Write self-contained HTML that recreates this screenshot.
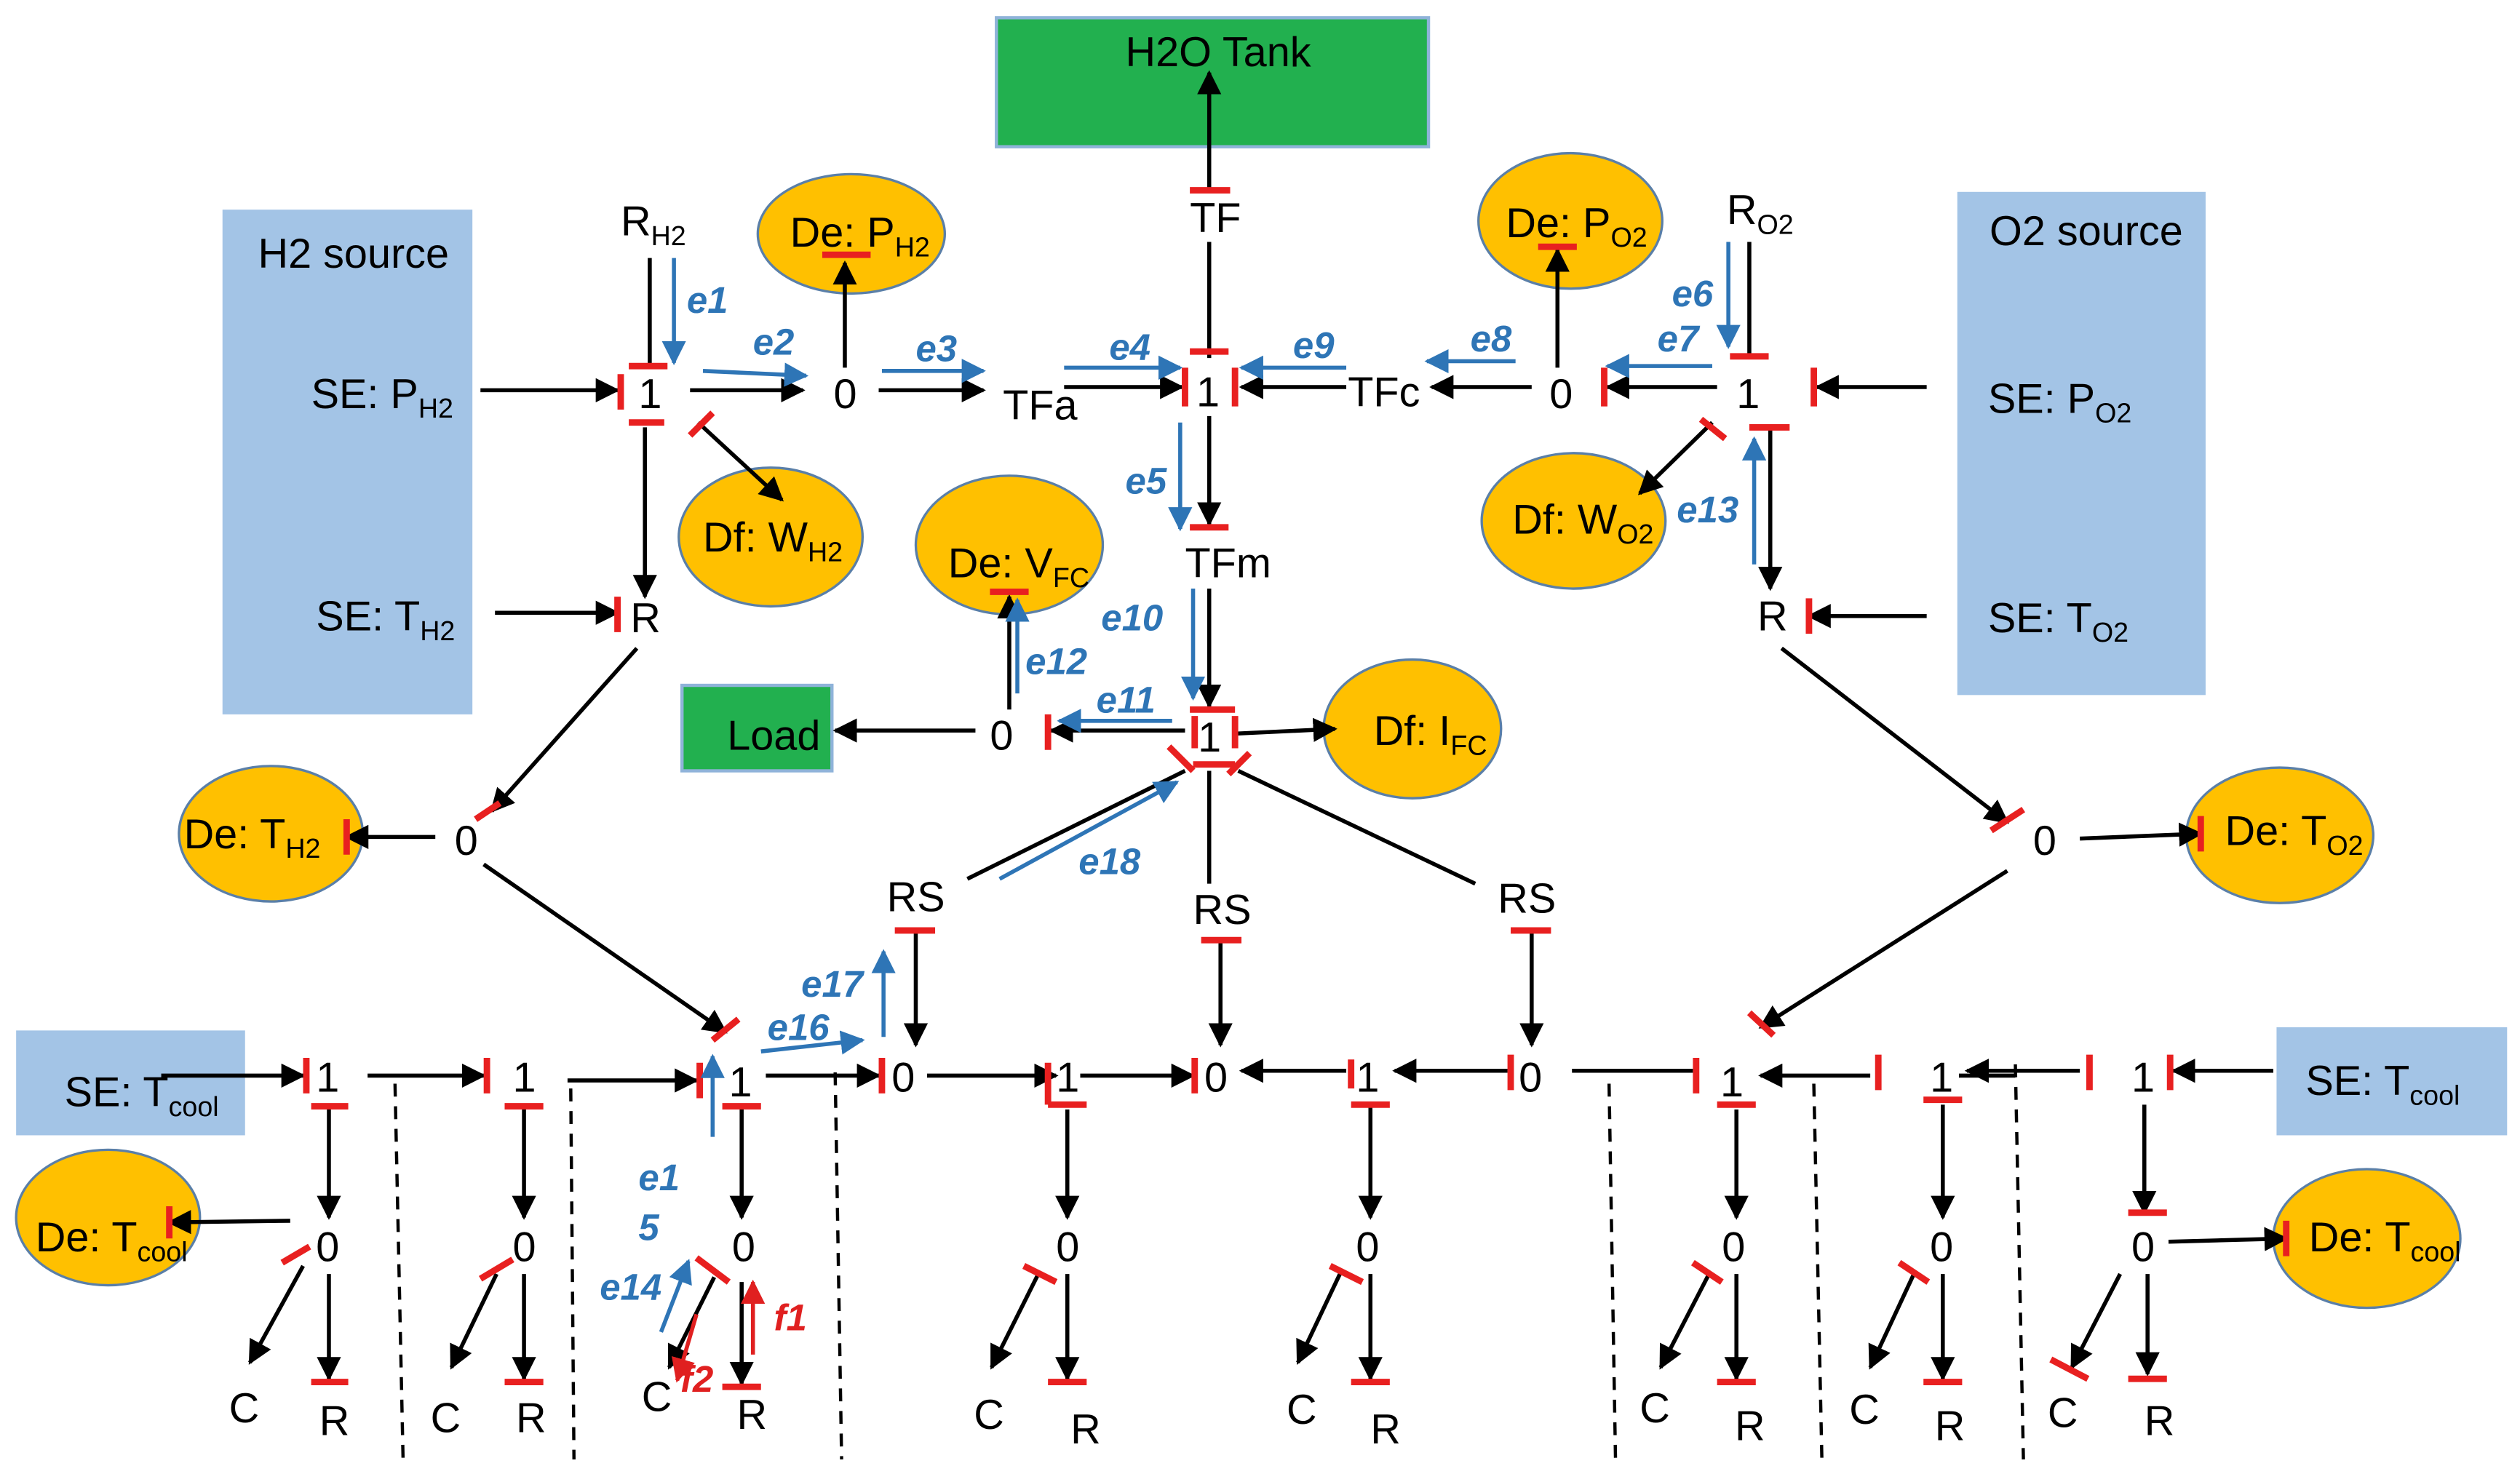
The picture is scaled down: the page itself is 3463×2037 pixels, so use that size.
<!DOCTYPE html>
<html><head><meta charset="utf-8"><style>
html,body{margin:0;padding:0;background:#fff;}
svg{display:block;}
text{font-family:"Liberation Sans",sans-serif;}
.t{font-size:26px;fill:#000;}
.s{font-size:17px;}
.b{font-size:23px;fill:#2e75b6;font-style:italic;font-weight:bold;}
.r{font-size:23px;fill:#e02020;font-style:italic;font-weight:bold;}
</style></head><body>
<svg width="3463" height="2037" viewBox="0 0 1563 919" preserveAspectRatio="none" xmlns="http://www.w3.org/2000/svg">
<defs>
<marker id="a" viewBox="0 0 10 10" refX="9" refY="5" markerWidth="6" markerHeight="6" orient="auto"><path d="M0,0 L10,5 L0,10 z" fill="#000"/></marker>
<marker id="ab" viewBox="0 0 10 10" refX="9" refY="5" markerWidth="6" markerHeight="6" orient="auto"><path d="M0,0 L10,5 L0,10 z" fill="#2e75b6"/></marker>
<marker id="ar" viewBox="0 0 10 10" refX="9" refY="5" markerWidth="6" markerHeight="6" orient="auto"><path d="M0,0 L10,5 L0,10 z" fill="#e02020"/></marker>
</defs>
<rect x="138" y="130" width="155" height="313" fill="#a3c4e6"/>
<rect x="1214" y="119" width="154" height="312" fill="#a3c4e6"/>
<rect x="618" y="11" width="268" height="80" fill="#22b04f" stroke="#8fb3d9" stroke-width="2"/>
<rect x="423" y="425" width="93" height="53" fill="#22b04f" stroke="#8fb3d9" stroke-width="2"/>
<rect x="10" y="639" width="142" height="65" fill="#a3c4e6"/>
<rect x="1412" y="637" width="143" height="67" fill="#a3c4e6"/>
<text class="t" x="160" y="166">H2 source</text>
<text class="t" x="1234" y="152">O2 source</text>
<text class="t" x="698" y="41">H2O Tank</text>
<text class="t" x="451" y="465">Load</text>
<g fill="#ffc000" stroke="#5a7fa8" stroke-width="1.5">
<ellipse cx="528" cy="145" rx="58" ry="37"/>
<ellipse cx="478" cy="333" rx="57" ry="43"/>
<ellipse cx="626" cy="338" rx="58" ry="43"/>
<ellipse cx="876" cy="452" rx="55" ry="43"/>
<ellipse cx="974" cy="137" rx="57" ry="42"/>
<ellipse cx="976" cy="323" rx="57" ry="42"/>
<ellipse cx="168" cy="517" rx="57" ry="42"/>
<ellipse cx="1414" cy="518" rx="58" ry="42"/>
<ellipse cx="67" cy="755" rx="57" ry="42"/>
<ellipse cx="1468" cy="768" rx="58" ry="43"/>
</g>
<text class="t" x="490" y="153">De: P<tspan class="s" dy="6">H2</tspan></text>
<text class="t" x="436" y="342">Df: W<tspan class="s" dy="6">H2</tspan></text>
<text class="t" x="588" y="358">De: V<tspan class="s" dy="6">FC</tspan></text>
<text class="t" x="852" y="462">Df: I<tspan class="s" dy="6">FC</tspan></text>
<text class="t" x="934" y="147">De: P<tspan class="s" dy="6">O2</tspan></text>
<text class="t" x="938" y="331">Df: W<tspan class="s" dy="6">O2</tspan></text>
<text class="t" x="114" y="526">De: T<tspan class="s" dy="6">H2</tspan></text>
<text class="t" x="1380" y="524">De: T<tspan class="s" dy="6">O2</tspan></text>
<text class="t" x="22" y="776">De: T<tspan class="s" dy="6">cool</tspan></text>
<text class="t" x="1432" y="776">De: T<tspan class="s" dy="6">cool</tspan></text>
<text class="t" x="40" y="686">SE: T<tspan class="s" dy="6">cool</tspan></text>
<text class="t" x="1430" y="679">SE: T<tspan class="s" dy="6">cool</tspan></text>
<text class="t" x="193" y="253">SE: P<tspan class="s" dy="6">H2</tspan></text>
<text class="t" x="196" y="391">SE: T<tspan class="s" dy="6">H2</tspan></text>
<text class="t" x="1233" y="256">SE: P<tspan class="s" dy="6">O2</tspan></text>
<text class="t" x="1233" y="392">SE: T<tspan class="s" dy="6">O2</tspan></text>
<text class="t" x="385" y="146">R<tspan class="s" dy="6">H2</tspan></text>
<text class="t" x="1071" y="139">R<tspan class="s" dy="6">O2</tspan></text>
<g class="t">
<text class="t" x="396" y="253">1</text>
<text class="t" x="517" y="253">0</text>
<text class="t" x="622" y="260">TFa</text>
<text class="t" x="742" y="252">1</text>
<text class="t" x="836" y="252">TFc</text>
<text class="t" x="961" y="253">0</text>
<text class="t" x="1077" y="253">1</text>
<text class="t" x="738" y="144">TF</text>
<text class="t" x="735" y="358">TFm</text>
<text class="t" x="743" y="466">1</text>
<text class="t" x="614" y="465">0</text>
<text class="t" x="391" y="392">R</text>
<text class="t" x="1090" y="391">R</text>
<text class="t" x="282" y="530">0</text>
<text class="t" x="1261" y="530">0</text>
<text class="t" x="550" y="565">RS</text>
<text class="t" x="740" y="573">RS</text>
<text class="t" x="929" y="566">RS</text>
</g>
<g stroke="#000" stroke-width="2.5" fill="none">
<line x1="298" y1="242" x2="383" y2="242" marker-end="url(#a)"/>
<line x1="428" y1="242" x2="498" y2="242" marker-end="url(#a)"/>
<line x1="524" y1="228" x2="524" y2="163" marker-end="url(#a)"/>
<line x1="545" y1="242" x2="610" y2="242" marker-end="url(#a)"/>
<line x1="660" y1="240" x2="733" y2="240" marker-end="url(#a)"/>
<line x1="835" y1="240" x2="770" y2="240" marker-end="url(#a)"/>
<line x1="950" y1="240" x2="888" y2="240" marker-end="url(#a)"/>
<line x1="1065" y1="240" x2="997" y2="240" marker-end="url(#a)"/>
<line x1="1195" y1="240" x2="1127" y2="240" marker-end="url(#a)"/>
<line x1="966" y1="228" x2="966" y2="155" marker-end="url(#a)"/>
<line x1="750" y1="222" x2="750" y2="150"/>
<line x1="750" y1="118" x2="750" y2="45" marker-end="url(#a)"/>
<line x1="750" y1="258" x2="750" y2="325" marker-end="url(#a)"/>
<line x1="750" y1="365" x2="750" y2="438" marker-end="url(#a)"/>
<line x1="765" y1="455" x2="828" y2="452" marker-end="url(#a)"/>
<line x1="735" y1="453" x2="652" y2="453" marker-end="url(#a)"/>
<line x1="605" y1="453" x2="518" y2="453" marker-end="url(#a)"/>
<line x1="626" y1="440" x2="626" y2="370" marker-end="url(#a)"/>
<line x1="403" y1="228" x2="403" y2="160"/>
<line x1="400" y1="265" x2="400" y2="370" marker-end="url(#a)"/>
<line x1="433" y1="262" x2="485" y2="310" marker-end="url(#a)"/>
<line x1="307" y1="380" x2="383" y2="380" marker-end="url(#a)"/>
<line x1="1085" y1="222" x2="1085" y2="150"/>
<line x1="1098" y1="265" x2="1098" y2="365" marker-end="url(#a)"/>
<line x1="1062" y1="262" x2="1017" y2="306" marker-end="url(#a)"/>
<line x1="1195" y1="382" x2="1122" y2="382" marker-end="url(#a)"/>
<line x1="395" y1="402" x2="305" y2="503" marker-end="url(#a)"/>
<line x1="270" y1="519" x2="215" y2="519" marker-end="url(#a)"/>
<line x1="300" y1="536" x2="450" y2="640" marker-end="url(#a)"/>
<line x1="1105" y1="402" x2="1245" y2="510" marker-end="url(#a)"/>
<line x1="1290" y1="520" x2="1365" y2="517" marker-end="url(#a)"/>
<line x1="1245" y1="540" x2="1092" y2="637" marker-end="url(#a)"/>
<line x1="735" y1="478" x2="600" y2="545"/>
<line x1="750" y1="478" x2="750" y2="548"/>
<line x1="768" y1="478" x2="915" y2="548"/>
<line x1="568" y1="577" x2="568" y2="648" marker-end="url(#a)"/>
<line x1="757" y1="583" x2="757" y2="648" marker-end="url(#a)"/>
<line x1="950" y1="577" x2="950" y2="648" marker-end="url(#a)"/>
<line x1="100" y1="667" x2="188" y2="667" marker-end="url(#a)"/>
<line x1="228" y1="667" x2="300" y2="667" marker-end="url(#a)"/>
<line x1="352" y1="670" x2="432" y2="670" marker-end="url(#a)"/>
<line x1="475" y1="667" x2="545" y2="667" marker-end="url(#a)"/>
<line x1="575" y1="667" x2="655" y2="667" marker-end="url(#a)"/>
<line x1="670" y1="667" x2="740" y2="667" marker-end="url(#a)"/>
<line x1="835" y1="664" x2="770" y2="664" marker-end="url(#a)"/>
<line x1="935" y1="664" x2="865" y2="664" marker-end="url(#a)"/>
<line x1="975" y1="664" x2="1050" y2="664"/>
<line x1="1160" y1="667" x2="1092" y2="667" marker-end="url(#a)"/>
<line x1="1290" y1="664" x2="1220" y2="664" marker-end="url(#a)"/>
<line x1="1410" y1="664" x2="1348" y2="664" marker-end="url(#a)"/>
<line x1="1215" y1="667" x2="1250" y2="667"/>
<line x1="180" y1="757" x2="105" y2="758" marker-end="url(#a)"/>
<line x1="1345" y1="770" x2="1418" y2="768" marker-end="url(#a)"/>
</g>
<g stroke="#000" stroke-width="2.5" fill="none">
<line x1="204" y1="688" x2="204" y2="755" marker-end="url(#a)"/><line x1="204" y1="790" x2="204" y2="855" marker-end="url(#a)"/><line x1="188" y1="785" x2="155" y2="845" marker-end="url(#a)"/>
<line x1="325" y1="688" x2="325" y2="755" marker-end="url(#a)"/><line x1="325" y1="790" x2="325" y2="855" marker-end="url(#a)"/><line x1="308" y1="790" x2="280" y2="848" marker-end="url(#a)"/>
<line x1="460" y1="688" x2="460" y2="755" marker-end="url(#a)"/><line x1="460" y1="795" x2="460" y2="858" marker-end="url(#a)"/><line x1="443" y1="792" x2="415" y2="848" marker-end="url(#a)"/>
<line x1="662" y1="688" x2="662" y2="755" marker-end="url(#a)"/><line x1="662" y1="790" x2="662" y2="855" marker-end="url(#a)"/><line x1="645" y1="788" x2="615" y2="848" marker-end="url(#a)"/>
<line x1="850" y1="685" x2="850" y2="755" marker-end="url(#a)"/><line x1="850" y1="790" x2="850" y2="855" marker-end="url(#a)"/><line x1="832" y1="788" x2="805" y2="845" marker-end="url(#a)"/>
<line x1="1077" y1="688" x2="1077" y2="755" marker-end="url(#a)"/><line x1="1077" y1="790" x2="1077" y2="855" marker-end="url(#a)"/><line x1="1060" y1="790" x2="1030" y2="848" marker-end="url(#a)"/>
<line x1="1205" y1="685" x2="1205" y2="755" marker-end="url(#a)"/><line x1="1205" y1="790" x2="1205" y2="855" marker-end="url(#a)"/><line x1="1188" y1="788" x2="1160" y2="848" marker-end="url(#a)"/>
<line x1="1330" y1="685" x2="1330" y2="752" marker-end="url(#a)"/><line x1="1332" y1="790" x2="1332" y2="852" marker-end="url(#a)"/><line x1="1315" y1="790" x2="1285" y2="848" marker-end="url(#a)"/>
</g>
<g stroke="#000" stroke-width="2" stroke-dasharray="8,6">
<line x1="245" y1="672" x2="250" y2="905"/>
<line x1="354" y1="675" x2="356" y2="905"/>
<line x1="518" y1="665" x2="522" y2="905"/>
<line x1="998" y1="672" x2="1002" y2="905"/>
<line x1="1125" y1="672" x2="1130" y2="905"/>
<line x1="1250" y1="660" x2="1255" y2="905"/>
</g>
<g class="t">
<text class="t" x="196" y="677">1</text><text class="t" x="196" y="782">0</text><text class="t" x="142" y="882">C</text><text class="t" x="198" y="890">R</text>
<text class="t" x="318" y="677">1</text><text class="t" x="318" y="782">0</text><text class="t" x="267" y="888">C</text><text class="t" x="320" y="888">R</text>
<text class="t" x="452" y="680">1</text><text class="t" x="454" y="782">0</text><text class="t" x="398" y="875">C</text><text class="t" x="457" y="886">R</text>
<text class="t" x="553" y="677">0</text><text class="t" x="655" y="677">1</text><text class="t" x="655" y="782">0</text><text class="t" x="604" y="886">C</text><text class="t" x="664" y="895">R</text>
<text class="t" x="747" y="677">0</text><text class="t" x="841" y="677">1</text><text class="t" x="841" y="782">0</text><text class="t" x="798" y="883">C</text><text class="t" x="850" y="895">R</text>
<text class="t" x="942" y="677">0</text><text class="t" x="1067" y="680">1</text><text class="t" x="1068" y="782">0</text><text class="t" x="1017" y="882">C</text><text class="t" x="1076" y="893">R</text>
<text class="t" x="1197" y="677">1</text><text class="t" x="1197" y="782">0</text><text class="t" x="1147" y="883">C</text><text class="t" x="1200" y="893">R</text>
<text class="t" x="1322" y="677">1</text><text class="t" x="1322" y="782">0</text><text class="t" x="1270" y="885">C</text><text class="t" x="1330" y="890">R</text>
</g>
<g stroke="#e82020" stroke-width="4">
<line x1="385" y1="232" x2="385" y2="254"/><line x1="390" y1="262" x2="412" y2="262"/><line x1="390" y1="227" x2="414" y2="227"/><line x1="428" y1="270" x2="442" y2="256"/>
<line x1="510" y1="158" x2="540" y2="158"/>
<line x1="735" y1="228" x2="735" y2="252"/><line x1="766" y1="228" x2="766" y2="252"/><line x1="738" y1="218" x2="762" y2="218"/><line x1="738" y1="118" x2="763" y2="118"/><line x1="738" y1="327" x2="762" y2="327"/>
<line x1="954" y1="153" x2="978" y2="153"/><line x1="995" y1="228" x2="995" y2="252"/><line x1="1073" y1="221" x2="1097" y2="221"/><line x1="1125" y1="228" x2="1125" y2="252"/><line x1="1085" y1="265" x2="1110" y2="265"/><line x1="1055" y1="260" x2="1070" y2="272"/>
<line x1="383" y1="370" x2="383" y2="392"/><line x1="1122" y1="371" x2="1122" y2="393"/>
<line x1="738" y1="440" x2="766" y2="440"/><line x1="741" y1="444" x2="741" y2="464"/><line x1="766" y1="444" x2="766" y2="464"/><line x1="650" y1="443" x2="650" y2="465"/><line x1="614" y1="367" x2="638" y2="367"/>
<line x1="725" y1="463" x2="740" y2="478"/><line x1="762" y1="480" x2="775" y2="467"/><line x1="740" y1="474" x2="766" y2="474"/>
<line x1="295" y1="508" x2="310" y2="498"/><line x1="215" y1="508" x2="215" y2="530"/><line x1="1235" y1="515" x2="1255" y2="502"/><line x1="1365" y1="506" x2="1365" y2="528"/>
<line x1="442" y1="645" x2="458" y2="632"/><line x1="1085" y1="628" x2="1100" y2="642"/>
<line x1="555" y1="577" x2="580" y2="577"/><line x1="745" y1="583" x2="770" y2="583"/><line x1="937" y1="577" x2="962" y2="577"/>
<line x1="190" y1="656" x2="190" y2="678"/><line x1="193" y1="686" x2="216" y2="686"/><line x1="105" y1="748" x2="105" y2="768"/><line x1="175" y1="783" x2="192" y2="773"/><line x1="193" y1="857" x2="216" y2="857"/>
<line x1="302" y1="656" x2="302" y2="678"/><line x1="313" y1="686" x2="337" y2="686"/><line x1="298" y1="793" x2="318" y2="781"/><line x1="313" y1="857" x2="337" y2="857"/>
<line x1="434" y1="659" x2="434" y2="681"/><line x1="448" y1="686" x2="472" y2="686"/><line x1="432" y1="780" x2="452" y2="795"/><line x1="448" y1="860" x2="472" y2="860"/>
<line x1="547" y1="656" x2="547" y2="678"/><line x1="650" y1="659" x2="650" y2="685"/><line x1="650" y1="685" x2="674" y2="685"/><line x1="635" y1="785" x2="655" y2="795"/><line x1="650" y1="857" x2="674" y2="857"/>
<line x1="741" y1="656" x2="741" y2="678"/><line x1="838" y1="685" x2="862" y2="685"/><line x1="838" y1="657" x2="838" y2="675"/><line x1="825" y1="785" x2="845" y2="795"/><line x1="838" y1="857" x2="862" y2="857"/>
<line x1="937" y1="654" x2="937" y2="676"/><line x1="1052" y1="656" x2="1052" y2="678"/><line x1="1065" y1="685" x2="1089" y2="685"/><line x1="1050" y1="783" x2="1068" y2="795"/><line x1="1065" y1="857" x2="1089" y2="857"/>
<line x1="1165" y1="654" x2="1165" y2="676"/><line x1="1193" y1="682" x2="1217" y2="682"/><line x1="1178" y1="783" x2="1196" y2="795"/><line x1="1193" y1="857" x2="1217" y2="857"/>
<line x1="1296" y1="654" x2="1296" y2="676"/><line x1="1346" y1="654" x2="1346" y2="676"/><line x1="1320" y1="752" x2="1344" y2="752"/><line x1="1418" y1="757" x2="1418" y2="779"/><line x1="1272" y1="843" x2="1295" y2="855"/><line x1="1320" y1="855" x2="1344" y2="855"/>
</g>
<g stroke="#2e75b6" stroke-width="2.5">
<line x1="418" y1="160" x2="418" y2="225" marker-end="url(#ab)"/>
<line x1="436" y1="230" x2="500" y2="233" marker-end="url(#ab)"/>
<line x1="547" y1="230" x2="610" y2="230" marker-end="url(#ab)"/>
<line x1="660" y1="228" x2="732" y2="228" marker-end="url(#ab)"/>
<line x1="835" y1="228" x2="770" y2="228" marker-end="url(#ab)"/>
<line x1="940" y1="224" x2="885" y2="224" marker-end="url(#ab)"/>
<line x1="1062" y1="227" x2="997" y2="227" marker-end="url(#ab)"/>
<line x1="1072" y1="150" x2="1072" y2="215" marker-end="url(#ab)"/>
<line x1="1088" y1="350" x2="1088" y2="272" marker-end="url(#ab)"/>
<line x1="732" y1="262" x2="732" y2="328" marker-end="url(#ab)"/>
<line x1="740" y1="365" x2="740" y2="433" marker-end="url(#ab)"/>
<line x1="727" y1="447" x2="657" y2="447" marker-end="url(#ab)"/>
<line x1="631" y1="430" x2="631" y2="372" marker-end="url(#ab)"/>
<line x1="620" y1="545" x2="730" y2="485" marker-end="url(#ab)"/>
<line x1="548" y1="643" x2="548" y2="590" marker-end="url(#ab)"/>
<line x1="472" y1="652" x2="535" y2="645" marker-end="url(#ab)"/>
<line x1="442" y1="705" x2="442" y2="655" marker-end="url(#ab)"/>
<line x1="410" y1="826" x2="427" y2="782" marker-end="url(#ab)"/>
</g>
<g stroke="#e02020" stroke-width="2.5">
<line x1="467" y1="840" x2="467" y2="795" marker-end="url(#ar)"/>
<line x1="432" y1="815" x2="420" y2="856" marker-end="url(#ar)"/>
</g>
<text class="b" x="426" y="194">e1</text>
<text class="b" x="467" y="220">e2</text>
<text class="b" x="568" y="224">e3</text>
<text class="b" x="688" y="223">e4</text>
<text class="b" x="802" y="222">e9</text>
<text class="b" x="912" y="218">e8</text>
<text class="b" x="1028" y="218">e7</text>
<text class="b" x="1037" y="190">e6</text>
<text class="b" x="1040" y="324">e13</text>
<text class="b" x="698" y="306">e5</text>
<text class="b" x="683" y="391">e10</text>
<text class="b" x="636" y="418">e12</text>
<text class="b" x="680" y="442">e11</text>
<text class="b" x="669" y="542">e18</text>
<text class="b" x="497" y="618">e17</text>
<text class="b" x="476" y="645">e16</text>
<text class="b" x="396" y="738">e1</text>
<text class="b" x="396" y="769">5</text>
<text class="b" x="372" y="806">e14</text>
<text class="r" x="480" y="825">f1</text>
<text class="r" x="422" y="863">f2</text>
</svg>
</body></html>
